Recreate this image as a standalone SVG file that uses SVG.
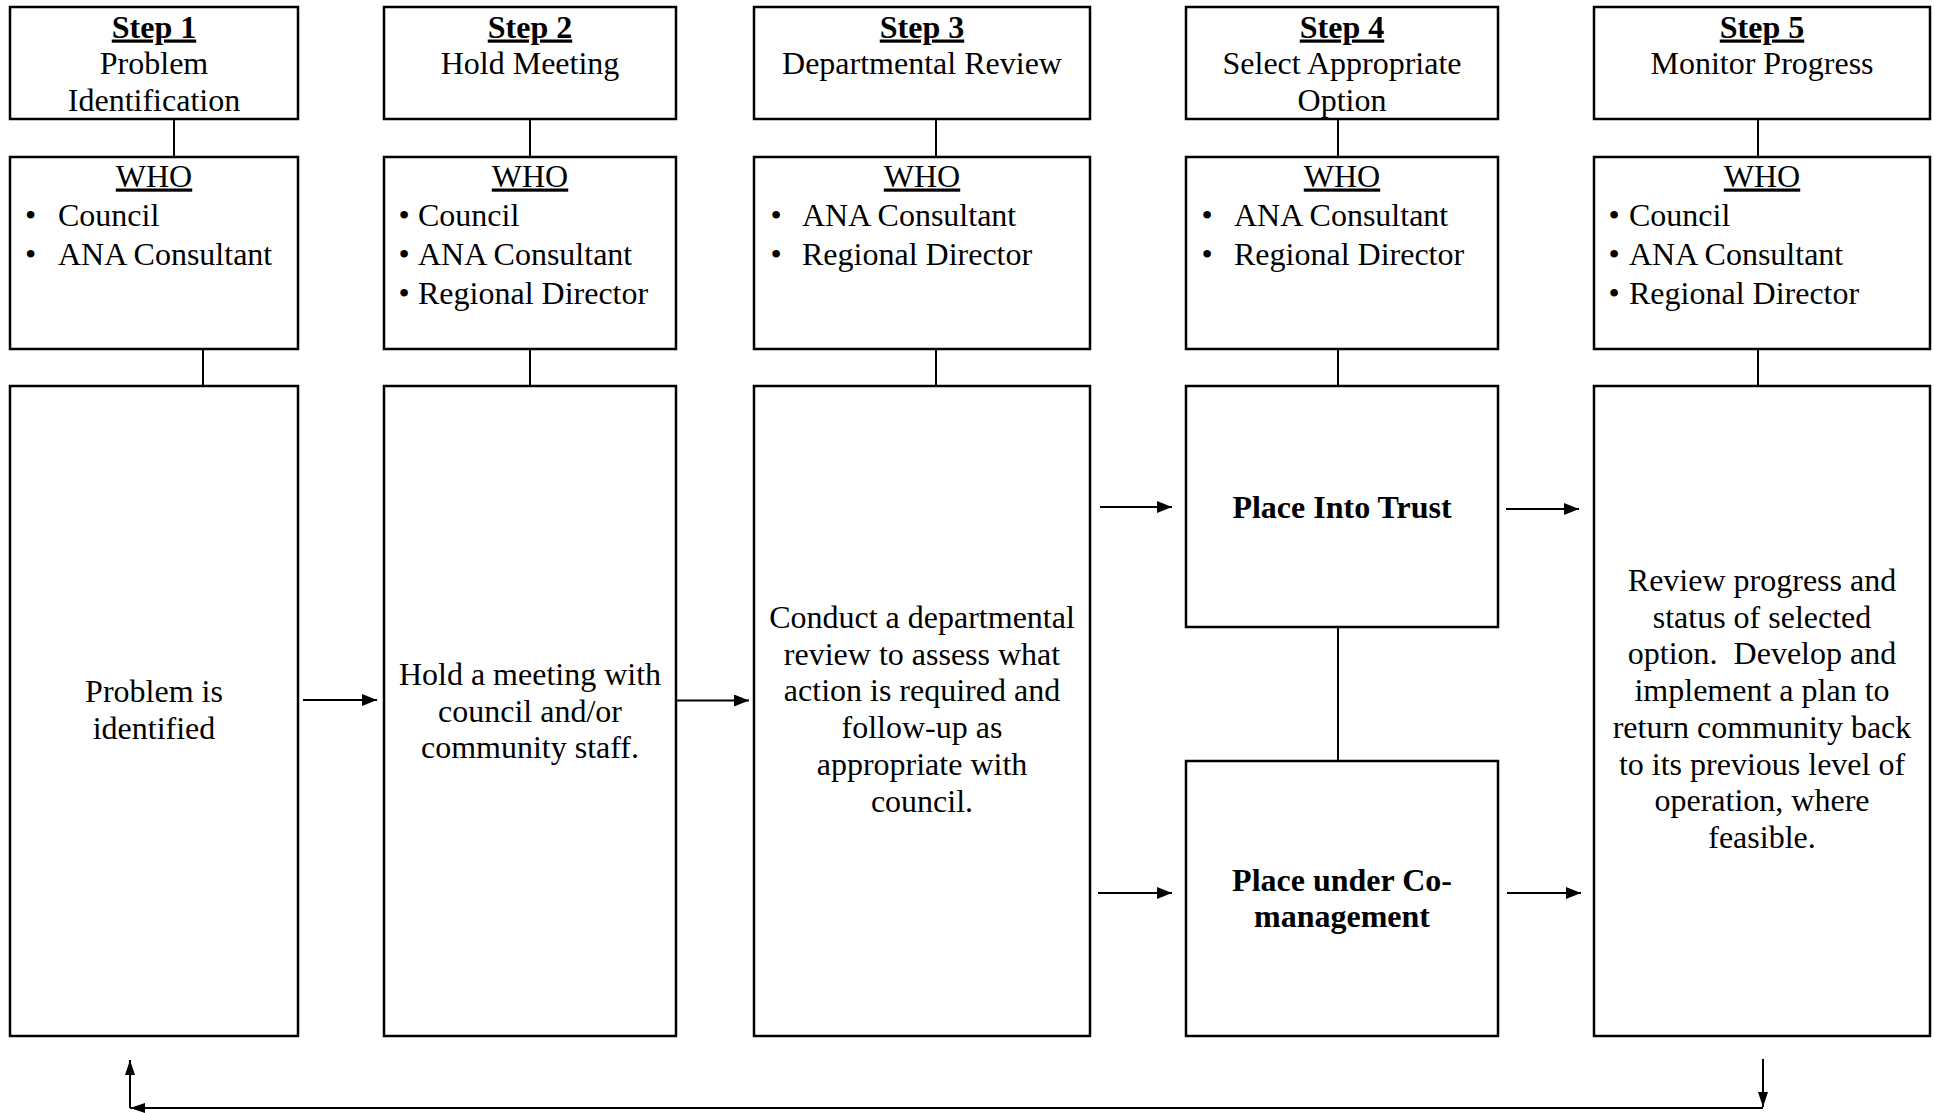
<svg xmlns="http://www.w3.org/2000/svg" width="1935" height="1113" viewBox="0 0 1935 1113">
<defs>
<style>
.box{fill:#fff;stroke:#000;stroke-width:2.5}
.ln{stroke:#000;stroke-width:2;fill:none}
.ar{stroke:#000;stroke-width:2;fill:none;marker-end:url(#ah)}
.fb{stroke:#000;stroke-width:2;fill:none;marker-end:url(#ah2)}
text{font-family:"Liberation Serif","Times New Roman",serif;font-size:32px;fill:#000}
.c{text-anchor:middle}
.b{font-weight:bold}
.u{text-decoration:underline}
.pre{white-space:pre}
</style>
<marker id="ah" viewBox="0 0 15 12" refX="15" refY="6" markerWidth="15" markerHeight="12" markerUnits="userSpaceOnUse" orient="auto">
<path d="M0,0 L15,6 L0,12 Z" fill="#000"/>
</marker>
<marker id="ah2" viewBox="0 0 15 10" refX="15" refY="5" markerWidth="15" markerHeight="10" markerUnits="userSpaceOnUse" orient="auto">
<path d="M0,0 L15,5 L0,10 Z" fill="#000"/>
</marker>
</defs>
<rect width="1935" height="1113" fill="#fff"/>

<g id="connectors">
<line class="ln" x1="174" y1="119" x2="174" y2="157"/>
<line class="ln" x1="530" y1="119" x2="530" y2="157"/>
<line class="ln" x1="936" y1="119" x2="936" y2="157"/>
<line class="ln" x1="1338" y1="119" x2="1338" y2="157"/>
<line class="ln" x1="1758" y1="119" x2="1758" y2="157"/>
<line class="ln" x1="203" y1="349" x2="203" y2="386"/>
<line class="ln" x1="530" y1="349" x2="530" y2="386"/>
<line class="ln" x1="936" y1="349" x2="936" y2="386"/>
<line class="ln" x1="1338" y1="349" x2="1338" y2="386"/>
<line class="ln" x1="1758" y1="349" x2="1758" y2="386"/>
<line class="ln" x1="1338" y1="627" x2="1338" y2="761"/>
<line class="ar" x1="303" y1="700" x2="377" y2="700"/>
<line class="ar" x1="677" y1="700.5" x2="749" y2="700.5"/>
<line class="ar" x1="1100" y1="507" x2="1172" y2="507"/>
<line class="ar" x1="1506" y1="509" x2="1579" y2="509"/>
<line class="ar" x1="1098" y1="893" x2="1172" y2="893"/>
<line class="ar" x1="1507" y1="893" x2="1581" y2="893"/>
<line class="fb" x1="1763" y1="1059" x2="1763" y2="1107"/>
<line class="fb" x1="1763" y1="1108" x2="130" y2="1108"/>
<line class="fb" x1="130" y1="1108" x2="130" y2="1060"/>
</g>

<g id="step1-header">
<rect class="box" x="10" y="7" width="288" height="112"/>
<text class="c b u" x="154" y="37.5">Step 1</text>
<text class="c" x="154" y="74">Problem</text>
<text class="c" x="154" y="110.5">Identification</text>
</g>
<g id="step1-who">
<rect class="box" x="10" y="157" width="288" height="192"/>
<text class="c u" x="154" y="186.5">WHO</text>
<text x="25" y="226">•</text><text x="58" y="226">Council</text>
<text x="25" y="265">•</text><text x="58" y="265">ANA Consultant</text>
</g>
<g id="step1-main">
<rect class="box" x="10" y="386" width="288" height="650"/>
<text class="c" x="154" y="702">Problem is</text>
<text class="c" x="154" y="738.7">identified</text>
</g>

<g id="step2-header">
<rect class="box" x="384" y="7" width="292" height="112"/>
<text class="c b u" x="530" y="37.5">Step 2</text>
<text class="c" x="530" y="74">Hold Meeting</text>
</g>
<g id="step2-who">
<rect class="box" x="384" y="157" width="292" height="192"/>
<text class="c u" x="530" y="186.5">WHO</text>
<text x="398.5" y="226">•</text><text x="418" y="226">Council</text>
<text x="398.5" y="265">•</text><text x="418" y="265">ANA Consultant</text>
<text x="398.5" y="304">•</text><text x="418" y="304">Regional Director</text>
</g>
<g id="step2-main">
<rect class="box" x="384" y="386" width="292" height="650"/>
<text class="c" x="530" y="685">Hold a meeting with</text>
<text class="c" x="530" y="721.7">council and/or</text>
<text class="c" x="530" y="758.4">community staff.</text>
</g>

<g id="step3-header">
<rect class="box" x="754" y="7" width="336" height="112"/>
<text class="c b u" x="922" y="37.5">Step 3</text>
<text class="c" x="922" y="74">Departmental Review</text>
</g>
<g id="step3-who">
<rect class="box" x="754" y="157" width="336" height="192"/>
<text class="c u" x="922" y="186.5">WHO</text>
<text x="770.5" y="226">•</text><text x="802" y="226">ANA Consultant</text>
<text x="770.5" y="265">•</text><text x="802" y="265">Regional Director</text>
</g>
<g id="step3-main">
<rect class="box" x="754" y="386" width="336" height="650"/>
<text class="c" x="922" y="628">Conduct a departmental</text>
<text class="c" x="922" y="664.7">review to assess what</text>
<text class="c" x="922" y="701.4">action is required and</text>
<text class="c" x="922" y="738.1">follow-up as</text>
<text class="c" x="922" y="774.8">appropriate with</text>
<text class="c" x="922" y="811.5">council.</text>
</g>

<g id="step4-header">
<rect class="box" x="1186" y="7" width="312" height="112"/>
<text class="c b u" x="1342" y="37.5">Step 4</text>
<text class="c" x="1342" y="74">Select Appropriate</text>
<text class="c" x="1342" y="110.5">Option</text>
</g>
<g id="step4-who">
<rect class="box" x="1186" y="157" width="312" height="192"/>
<text class="c u" x="1342" y="186.5">WHO</text>
<text x="1201.5" y="226">•</text><text x="1234" y="226">ANA Consultant</text>
<text x="1201.5" y="265">•</text><text x="1234" y="265">Regional Director</text>
</g>
<g id="step4-trust">
<rect class="box" x="1186" y="386" width="312" height="241"/>
<text class="c b" x="1342" y="517.5">Place Into Trust</text>
</g>
<g id="step4-comanagement">
<rect class="box" x="1186" y="761" width="312" height="275"/>
<text class="c b" x="1342" y="890.5">Place under Co-</text>
<text class="c b" x="1342" y="927">management</text>
</g>

<g id="step5-header">
<rect class="box" x="1594" y="7" width="336" height="112"/>
<text class="c b u" x="1762" y="37.5">Step 5</text>
<text class="c" x="1762" y="74">Monitor Progress</text>
</g>
<g id="step5-who">
<rect class="box" x="1594" y="157" width="336" height="192"/>
<text class="c u" x="1762" y="186.5">WHO</text>
<text x="1608.5" y="226">•</text><text x="1629" y="226">Council</text>
<text x="1608.5" y="265">•</text><text x="1629" y="265">ANA Consultant</text>
<text x="1608.5" y="304">•</text><text x="1629" y="304">Regional Director</text>
</g>
<g id="step5-main">
<rect class="box" x="1594" y="386" width="336" height="650"/>
<text class="c" x="1762" y="591">Review progress and</text>
<text class="c" x="1762" y="627.7">status of selected</text>
<text class="c pre" x="1762" y="664.4" xml:space="preserve">option.  Develop and</text>
<text class="c" x="1762" y="701.1">implement a plan to</text>
<text class="c" x="1762" y="737.8">return community back</text>
<text class="c" x="1762" y="774.5">to its previous level of</text>
<text class="c" x="1762" y="811.2">operation, where</text>
<text class="c" x="1762" y="847.9">feasible.</text>
</g>
</svg>
